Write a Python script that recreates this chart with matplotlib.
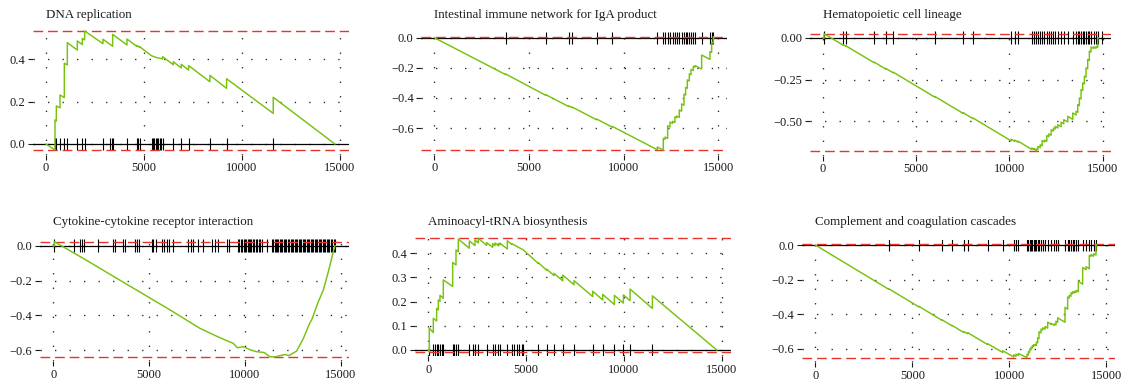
import numpy as np
import matplotlib
matplotlib.use("Agg")
import matplotlib.pyplot as plt

plt.rcParams['font.family'] = ['Liberation Serif', 'DejaVu Serif']

W, H = 1123, 385

# ---- data ----
titles = ["DNA replication", "Intestinal immune network for IgA product",
          "Hematopoietic cell lineage", "Cytokine-cytokine receptor interaction",
          "Aminoacyl-tRNA biosynthesis", "Complement and coagulation cascades"]

x_ticks = [0, 5000, 10000, 15000]
x_ticklabels = ["0", "5000", "10000", "15000"]

# DNA replication
dna_hits = [459, 527, 714, 935, 1088, 1598, 1853, 1972, 2907, 3264, 3349, 3400,
            4131, 4624, 4709, 4777, 5389, 5457, 5525, 5593, 5661, 5729, 5797,
            5865, 5950, 6494, 6902, 7276, 8364, 9214, 11594]
dna_x = [0, 459, 459, 527, 527, 714, 714, 935, 935, 1088, 1088, 1598, 1598,
         1853, 1853, 1972, 1972, 2907, 2907, 3400, 3400, 4131, 4131, 4624, 4624,
         4777, 4777, 5389, 5661, 5899, 5950, 5950, 6494, 6494, 6902, 6902,
         7276, 7276, 8364, 8364, 9214, 9214, 11594, 11594, 14739]
dna_es = [0, -0.028, 0.113, 0.108, 0.179, 0.170, 0.231, 0.218, 0.380, 0.372,
          0.477, 0.442, 0.485, 0.468, 0.497, 0.490, 0.532, 0.472, 0.493, 0.460,
          0.516, 0.466, 0.494, 0.460, 0.464, 0.455, 0.458, 0.415, 0.406, 0.402,
          0.400, 0.411, 0.373, 0.387, 0.358, 0.375, 0.348, 0.369, 0.293, 0.323,
          0.262, 0.307, 0.144, 0.220, 0.0]

# Intestinal immune network for IgA product
iga_hits = [3766, 5878, 7110, 7286, 8571, 9398, 11774, 12091, 12179, 12320,
            12443, 12584, 12707, 12795, 12936, 13059, 13182, 13270, 13358,
            13464, 13552, 13675, 13763, 14115, 14555, 14643, 14731]
iga_x = [0, 3766, 3766, 5878, 5878, 7110, 7110, 7286, 7286, 8571, 8571, 9398,
         9398, 11774, 11774, 12091, 12091, 12179, 12179, 12320, 12320, 12443,
         12443, 12584, 12584, 12707, 12707, 12795, 12795, 12936, 12936, 13059,
         13059, 13182, 13182, 13270, 13270, 13358, 13358, 13464, 13464, 13552,
         13552, 13675, 13675, 13763, 13763, 14115, 14115, 14555, 14555, 14643,
         14643, 14731, 14731, 14770]
iga_es = [0, -0.245, -0.241, -0.382, -0.378, -0.458, -0.453, -0.465, -0.461,
          -0.545, -0.540, -0.594, -0.589, -0.744, -0.726, -0.746, -0.668, -0.674,
          -0.660, -0.669, -0.585, -0.593, -0.560, -0.569, -0.555, -0.563, -0.525,
          -0.531, -0.520, -0.529, -0.480, -0.488, -0.440, -0.448, -0.375, -0.381,
          -0.330, -0.336, -0.280, -0.287, -0.240, -0.246, -0.210, -0.218, -0.190,
          -0.196, -0.185, -0.208, -0.115, -0.144, -0.092, -0.098, -0.030, -0.036,
          0.007, 0.0]

# Hematopoietic cell lineage
hem_hits = [71, 1104, 1247, 2761, 3366, 3776, 6002, 7516, 8050, 10098, 10276,
            10454, 11202, 11309, 11434, 11523, 11648, 11755, 11879, 12004, 12111,
            12235, 12360, 12449, 12592, 12770, 12912, 13126, 13393, 13571, 13660,
            13749, 13838, 13927, 14016, 14105, 14194, 14283, 14372, 14515, 14640,
            14729, 14942]
hem_x = [0, 71, 71, 1104, 1104, 1247, 1247, 2761, 2761, 3366, 3366, 3776, 3776,
         6002, 6002, 7516, 7516, 8050, 8050, 10098, 10098, 10276, 10276, 10454,
         10454, 11202, 11202, 11309, 11309, 11434, 11434, 11523, 11523, 11648,
         11648, 11755, 11755, 11879, 11879, 12004, 12004, 12111, 12111, 12235,
         12235, 12360, 12360, 12449, 12449, 12592, 12592, 12770, 12770, 12912,
         12912, 13126, 13126, 13393, 13393, 13571, 13571, 13660, 13660, 13749,
         13749, 13838, 13838, 13927, 13927, 14016, 14016, 14105, 14105, 14194,
         14194, 14283, 14283, 14372, 14372, 14515, 14515, 14640, 14640, 14729,
         14729, 14740]
hem_es = [0, -0.004, 0.024, -0.045, -0.042, -0.052, -0.049, -0.150, -0.146,
          -0.187, -0.183, -0.210, -0.206, -0.355, -0.351, -0.452, -0.448, -0.484,
          -0.480, -0.617, -0.607, -0.619, -0.612, -0.624, -0.618, -0.668, -0.660,
          -0.667, -0.662, -0.677, -0.665, -0.671, -0.650, -0.658, -0.640, -0.647,
          -0.615, -0.623, -0.612, -0.620, -0.585, -0.592, -0.575, -0.583, -0.550,
          -0.558, -0.540, -0.546, -0.530, -0.540, -0.520, -0.532, -0.505, -0.515,
          -0.490, -0.504, -0.470, -0.488, -0.450, -0.462, -0.440, -0.446, -0.400,
          -0.406, -0.360, -0.366, -0.310, -0.316, -0.270, -0.276, -0.230, -0.236,
          -0.180, -0.186, -0.130, -0.136, -0.080, -0.086, -0.055, -0.065, -0.055,
          -0.063, -0.052, -0.058, 0.002, 0.0]

# Cytokine-cytokine receptor interaction
cyt_hits = [52, 1079, 1392, 1479, 1601, 2349, 3132, 3219, 3654, 3741, 4263,
            4350, 4489, 5133, 5220, 5342, 5655, 5794, 5916, 6055, 6264, 7047,
            7169, 7308, 7569, 7830, 8265, 8439, 8613, 9048, 9170, 9657, 9712,
            9790, 9851, 9935, 9998, 10063, 10147, 10204, 10288, 10341, 10425,
            10497, 10581, 10644, 10738, 10811, 10893, 11136, 11397, 11462, 11548,
            11603, 11689, 11744, 11826, 11901, 11958, 12037, 12108, 12165, 12249,
            12316, 12384, 12455, 12527, 12596, 12652, 12738, 12806, 12871, 12945,
            13018, 13082, 13157, 13226, 13294, 13367, 13431, 13502, 13578, 13641,
            13713, 13786, 13852, 13924, 13997, 14061, 14139, 14204, 14273, 14346,
            14415, 14487, 14552, 14625, 14694]
cyt_x = [0, 52, 52, 1600, 4000, 6000, 7656, 8700, 9396, 9605, 9918, 10300,
         10614, 11000, 11310, 11600, 11832, 12100, 12300, 12702, 13050, 13400,
         13485, 13833, 14094, 14355, 14616, 14703]
cyt_es = [0, -0.002, 0.023, -0.075, -0.232, -0.362, -0.474, -0.528, -0.560,
          -0.585, -0.579, -0.598, -0.608, -0.612, -0.637, -0.637, -0.630,
          -0.624, -0.630, -0.604, -0.532, -0.440, -0.426, -0.321, -0.254,
          -0.149, -0.034, 0.0]

# Aminoacyl-tRNA biosynthesis
ami_hits = [51, 256, 341, 426, 512, 597, 682, 767, 1245, 1330, 1415, 1534,
            2097, 2302, 2387, 2558, 2984, 3290, 3410, 3580, 3666, 4041, 4262,
            4382, 4518, 4655, 4774, 4859, 5627, 6053, 6428, 6871, 7451, 8405,
            8917, 9514, 9974, 10315, 11458]
ami_x = [0, 51, 51, 256, 256, 426, 426, 512, 512, 597, 597, 767, 767, 1245,
         1245, 1415, 1415, 1534, 1534, 2097, 2097, 2387, 2387, 2558, 2558, 2984,
         2984, 3290, 3290, 3410, 3410, 3580, 3580, 3666, 3666, 4041, 4041, 4262,
         4262, 4859, 5627, 5627, 6053, 6053, 6428, 6428, 6871, 6871, 7451, 7451,
         8405, 8405, 8917, 8917, 9514, 9514, 9974, 9974, 10315, 10315, 11458,
         11458, 14748]
ami_es = [0, -0.008, 0.090, 0.072, 0.131, 0.120, 0.172, 0.166, 0.207, 0.201,
          0.226, 0.214, 0.290, 0.263, 0.362, 0.352, 0.414, 0.407, 0.459, 0.421,
          0.451, 0.432, 0.455, 0.443, 0.462, 0.433, 0.444, 0.425, 0.440, 0.432,
          0.443, 0.431, 0.441, 0.435, 0.442, 0.418, 0.452, 0.437, 0.440, 0.414,
          0.358, 0.361, 0.330, 0.334, 0.308, 0.317, 0.286, 0.310, 0.270, 0.287,
          0.221, 0.243, 0.207, 0.230, 0.188, 0.226, 0.194, 0.228, 0.204, 0.252,
          0.172, 0.224, 0.0]

# Complement and coagulation cascades
com_hits = [3792, 5337, 6521, 7036, 7653, 7859, 8889, 9661, 10227, 10347,
            10468, 10914, 10983, 11051, 11120, 11189, 11257, 11326, 11395, 11463,
            11532, 11635, 11721, 11841, 11978, 12150, 12322, 12407, 12493, 12871,
            13008, 13094, 13180, 13266, 13352, 13437, 13558, 13781, 13953, 14124,
            14210, 14347, 14467]
com_x = [0, 3792, 3792, 5337, 5337, 6521, 6521, 7036, 7036, 7653, 7653, 7859,
         7859, 8889, 8889, 9661, 9661, 10227, 10227, 10347, 10347, 10468, 10468,
         10914, 10914, 10983, 10983, 11051, 11051, 11120, 11120, 11189, 11189,
         11257, 11257, 11326, 11326, 11395, 11395, 11463, 11463, 11532, 11532,
         11635, 11635, 11721, 11721, 11841, 11841, 11978, 11978, 12150, 12150,
         12322, 12322, 12407, 12407, 12493, 12493, 12871, 12871, 13008, 13008,
         13094, 13094, 13180, 13180, 13266, 13266, 13352, 13352, 13437, 13437,
         13558, 13558, 13781, 13781, 13953, 13953, 14124, 14124, 14210, 14210,
         14347, 14347, 14467, 14467, 14500]
com_es = [0, -0.256, -0.253, -0.357, -0.354, -0.434, -0.431, -0.466, -0.463,
          -0.505, -0.500, -0.512, -0.506, -0.575, -0.570, -0.620, -0.610, -0.646,
          -0.634, -0.642, -0.630, -0.638, -0.626, -0.650, -0.630, -0.635, -0.615,
          -0.620, -0.600, -0.605, -0.590, -0.595, -0.580, -0.585, -0.575, -0.580,
          -0.575, -0.580, -0.560, -0.565, -0.535, -0.540, -0.500, -0.507, -0.485,
          -0.491, -0.478, -0.486, -0.470, -0.480, -0.445, -0.457, -0.452, -0.464,
          -0.455, -0.461, -0.440, -0.446, -0.420, -0.446, -0.360, -0.370, -0.300,
          -0.306, -0.290, -0.296, -0.275, -0.281, -0.270, -0.276, -0.268, -0.274,
          -0.262, -0.270, -0.210, -0.226, -0.130, -0.142, -0.125, -0.137, -0.060,
          -0.066, -0.055, -0.065, -0.050, -0.058, 0.004, 0.0]

y_ticks = [[0.0, 0.2, 0.4], [0.0, -0.2, -0.4, -0.6], [0.0, -0.25, -0.5],
           [0.0, -0.2, -0.4, -0.6], [0.0, 0.1, 0.2, 0.3, 0.4],
           [0.0, -0.2, -0.4, -0.6]]
y_fmt = ["%.1f", "%.1f", "%.2f", "%.1f", "%.1f", "%.1f"]

panels = [(dna_x, dna_es, dna_hits), (iga_x, iga_es, iga_hits),
          (hem_x, hem_es, hem_hits), (cyt_x, cyt_es, cyt_hits),
          (ami_x, ami_es, ami_hits), (com_x, com_es, com_hits)]

# ---- layout (pixel of x=0, px per unit x, pixel of y=0, px per unit y) ----
layout = [(46.0, 0.01960, 144.0, 212.5),
          (434.3, 0.01894, 37.7, 150.6),
          (822.7, 0.01867, 37.7, 167.3),
          (53.3, 0.01916, 245.7, 174.4),
          (428.3, 0.01956, 350.0, 241.7),
          (815.3, 0.01940, 245.0, 173.3)]
title_base = [18, 18, 18, 225, 225, 225]
XLIM = (-680, 15450)

GREEN = '#77c20f'
RED = '#e8342c'

fig = plt.figure(figsize=(W / 100, H / 100), dpi=100)

for i, (xs, es, hits) in enumerate(panels):
    p0, ppx, y0, ppy = layout[i]
    lo, hi = min(es), max(es)
    r = hi - lo
    ylim = (lo - 0.04 * r, hi + 0.04 * r)
    left = p0 + XLIM[0] * ppx
    right = p0 + XLIM[1] * ppx
    top = y0 - ylim[1] * ppy
    bottom = y0 - ylim[0] * ppy
    ax = fig.add_axes([left / W, 1 - bottom / H, (right - left) / W, (bottom - top) / H])
    ax.set_xlim(*XLIM)
    ax.set_ylim(*ylim)
    for s in ax.spines.values():
        s.set_visible(False)

    ax.set_xticks(x_ticks)
    ax.set_xticklabels(x_ticklabels)
    ax.set_yticks(y_ticks[i])
    ax.set_yticklabels([(y_fmt[i] % v).replace('-', '\u2212') for v in y_ticks[i]])
    ax.tick_params(direction='out', length=3.6, width=0.8, colors='#1a1a1a',
                   labelsize=8.9, pad=2)
    ax.grid(True, color='#222222', linestyle=(0, (1, 10)), lw=0.95, zorder=0)
    ax.set_axisbelow(True)

    h = 0.05 * r * 1.08
    ax.axhline(0, color='black', lw=0.9, zorder=1)
    ax.vlines(hits, -h, h, color='black', lw=0.8, zorder=2)
    ax.axhline(hi, color=RED, lw=1.0, linestyle=(0, (7, 3.5)), zorder=3)
    ax.axhline(lo, color=RED, lw=1.0, linestyle=(0, (7, 3.5)), zorder=3)
    ax.plot(xs, es, color=GREEN, lw=1.05, zorder=4)

    fig.text(p0 / W, 1 - title_base[i] / H, titles[i], ha='left', va='baseline',
             fontsize=9.4, color='#1a1a1a')

fig.savefig("out.png", dpi=100)
